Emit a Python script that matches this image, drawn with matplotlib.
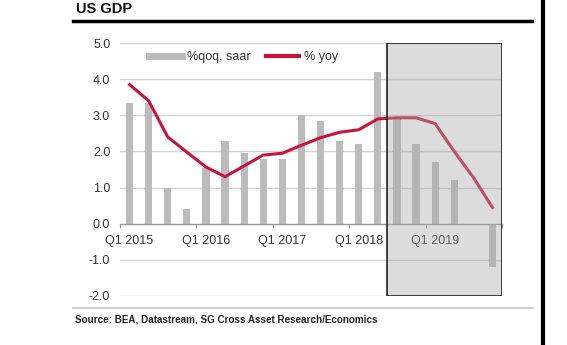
import numpy as np
import matplotlib
matplotlib.use("Agg")
import matplotlib.pyplot as plt
from matplotlib.patches import Rectangle
from matplotlib.lines import Line2D

# Quarterly US GDP growth, Q1 2015 - Q4 2019 (2018 Q3 onward = forecast)
quarters = [f"Q{q} {y}" for y in range(2015, 2020) for q in range(1, 5)]
qoq_saar = [3.35, 3.35, 1.0, 0.4, 1.55, 2.3, 1.95, 1.8, 1.8, 3.0,
            2.85, 2.3, 2.2, 4.2, 2.9, 2.2, 1.7, 1.2, np.nan, -1.2]
yoy = [3.85, 3.4, 2.4, 1.98, 1.57, 1.3, 1.6, 1.9, 1.95, 2.17,
       2.38, 2.53, 2.6, 2.9, 2.93, 2.93, 2.77, 2.0, 1.28, 0.45]
tick_labels = ["Q1 2015", "Q1 2016", "Q1 2017", "Q1 2018", "Q1 2019"]
forecast_start = 13.5

BAR_COLOR = "#BBBBBB"
LINE_COLOR = "#C8143C"
TEXT_COLOR = "#333333"

plt.rcParams["font.family"] = ["Liberation Sans", "DejaVu Sans"]

fig = plt.figure(figsize=(5.67, 3.45), dpi=100)
ax = fig.add_axes([120 / 567, 49 / 345, 382 / 567, 253 / 345])

x = np.arange(len(quarters))
ax.bar(x, qoq_saar, width=0.38, color=BAR_COLOR, zorder=2, label="%qoq, saar")
ax.plot(x, yoy, color=LINE_COLOR, lw=2.2, zorder=3, label="% yoy",
        solid_joinstyle="round")

ax.set_xlim(-0.5, len(quarters) - 0.5)
ax.set_ylim(-2.0, 5.0)
ax.set_yticks(np.arange(-2, 6, 1))
ax.set_yticklabels([f"{v:.1f}" for v in np.arange(-2, 6, 1)],
                   fontsize=9, color=TEXT_COLOR)
ax.tick_params(axis="y", length=0, pad=7)

# horizontal gridlines (zero handled by the axis line)
for v in [-2, -1, 1, 2, 3, 4, 5]:
    ax.axhline(v, color="#D4D4D4", lw=1.0, zorder=1)

for s in ["left", "right", "top"]:
    ax.spines[s].set_visible(False)
ax.spines["bottom"].set_position(("data", 0))
ax.spines["bottom"].set_color("#999999")
ax.spines["bottom"].set_linewidth(1.0)
ax.spines["bottom"].set_zorder(2.5)

year_starts = [i for i, q in enumerate(quarters) if q.startswith("Q1")]
ax.set_xticks([i - 0.5 for i in year_starts] + [len(quarters) - 0.5])
ax.set_xticklabels([])
ax.tick_params(axis="x", which="major", direction="out", length=3,
               color="#999999")
ax.set_xticks(year_starts, minor=True)
ax.set_xticklabels(tick_labels, minor=True, fontsize=9, color=TEXT_COLOR)
ax.tick_params(axis="x", which="minor", length=0, pad=8)

# forecast window
ax.add_patch(Rectangle((forecast_start, -2.0), len(quarters) - 0.5 - forecast_start, 7.0,
                       facecolor=(0.66, 0.66, 0.66, 0.4), edgecolor="#222222",
                       lw=1.2, zorder=4))

handles = [Line2D([0], [0], color=BAR_COLOR, lw=5),
           Line2D([0], [0], color=LINE_COLOR, lw=3)]
ax.legend(handles, ["%qoq, saar", "% yoy"], ncol=2, frameon=False,
          loc="center left", bbox_to_anchor=(0.076, 0.945), fontsize=9,
          handlelength=2.6, handletextpad=0.4, columnspacing=1.3,
          borderaxespad=0, borderpad=0, labelcolor=TEXT_COLOR)

# title, rules and source
fig.text(76 / 567, 1 - 9 / 345, "US GDP", fontsize=10.5, fontweight="bold",
         color="#111111", va="center", ha="left")
fig.add_artist(Line2D([73 / 567, 532 / 567], [1 - 21 / 345, 1 - 21 / 345],
                      color="black", lw=2.5))
fig.add_artist(Line2D([73 / 567, 533 / 567], [1 - 308 / 345, 1 - 308 / 345],
                      color="#C8C8C8", lw=1.2))
fig.add_artist(Line2D([542.5 / 567, 542.5 / 567], [0, 1],
                      color="black", lw=3))
fig.text(75 / 567, 1 - 320 / 345,
         "Source: BEA, Datastream, SG Cross Asset Research/Economics",
         fontsize=7.1, fontweight="bold", color="#222222", va="center", ha="left")

fig.savefig("out.png", dpi=100)
